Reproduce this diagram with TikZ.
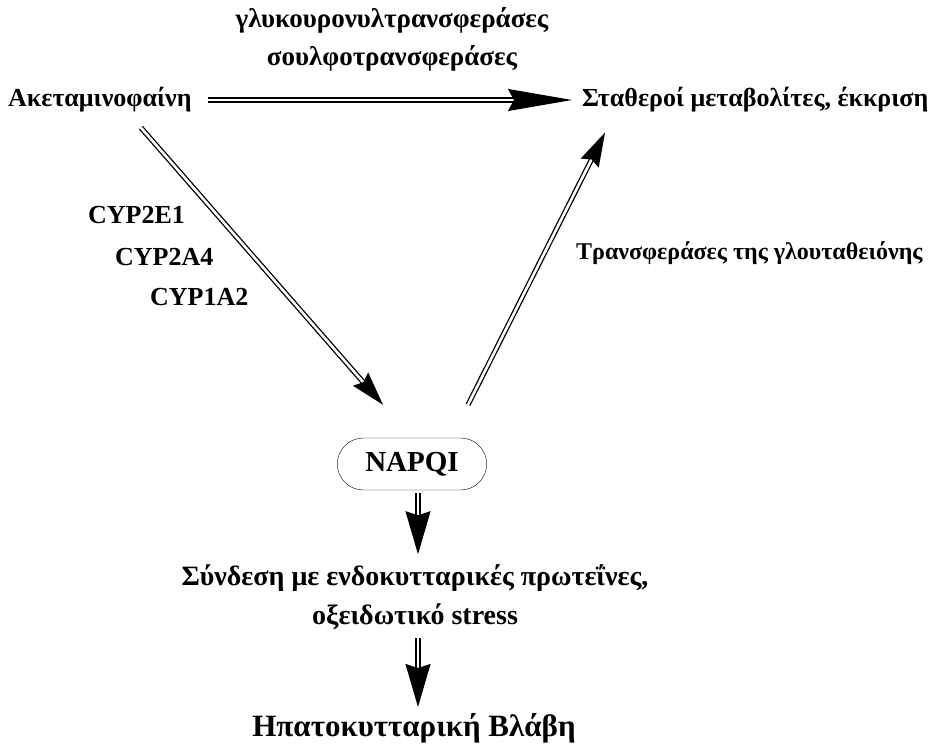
\documentclass[tikz,border=0pt]{standalone}
\usepackage{fontspec}
\setmainfont{Liberation Serif}
\usetikzlibrary{arrows.meta,shapes.misc}

\begin{document}
\begin{tikzpicture}[
	x = 1pt, y = -1pt,
	font = \bfseries\fontsize{26}{38}\selectfont,
	lbl/.style = {
		inner sep = 2pt
	},
	dbl/.style = {
		double,
		double distance = 2.6pt,
		line width = 1.3pt
	},
	longhead/.style = {
		dbl,
		-{Stealth[length = 64pt, width = 22pt, inset = 6pt]}
	},
	midhead/.style = {
		dbl,
		-{Stealth[length = 34pt, width = 20pt, inset = 4pt]}
	},
	downhead/.style = {
		dbl,
		-{Stealth[length = 43pt, width = 25pt, inset = 4pt]}
	}
	]
	\useasboundingbox (0,0) rectangle (934,747);
	\node[lbl, align = center, font = \bfseries\fontsize{27}{38}\selectfont] (enz) at (392,39) {γλυκουρονυλτρανσφεράσες\\σουλφοτρανσφεράσες};
	\node[lbl, anchor = west] (aket) at (6,100) {Ακεταμινοφαίνη};
	\node[lbl, anchor = west] (stab) at (580,100) {Σταθεροί μεταβολίτες, έκκριση};
	\node[lbl, anchor = west] (cypa) at (86,215) {CYP2E1};
	\node[lbl, anchor = west] (cypb) at (113,257) {CYP2A4};
	\node[lbl, anchor = west] (cypc) at (148,297) {CYP1A2};
	\node[lbl, anchor = west, font = \bfseries\fontsize{24}{28}\selectfont] (gsh) at (574,253) {Τρανσφεράσες της γλουταθειόνης};
	\node[draw, thin, rounded rectangle, minimum width = 156pt, minimum height = 52pt,
		font = \bfseries\fontsize{29}{32}\selectfont] (napqi) at (412,464) {NAPQI};
	\node[lbl, align = center, font = \bfseries\fontsize{28}{39}\selectfont] (synd) at (415,597) {Σύνδεση με ενδοκυτταρικές πρωτεΐνες,\\οξειδωτικό stress};
	\node[lbl, font = \bfseries\fontsize{31}{34}\selectfont] (blavi) at (414,728) {Ηπατοκυτταρική Βλάβη};

	\draw[longhead] ([xshift = 14pt]aket.east) -- ([xshift = -8pt]stab.west);
	\draw[midhead] ([xshift = 41pt, yshift = -13pt]aket.south) -- ([xshift = -29pt, yshift = 33pt]napqi.north);
	\draw[midhead] ([xshift = 56pt, yshift = 33pt]napqi.north) -- ([xshift = 25pt, yshift = -18pt]stab.south west);
	\draw[downhead] ([xshift = 6pt, yshift = -3pt]napqi.south) -- ([xshift = 3pt, yshift = 8pt]synd.north);
	\draw[downhead] ([xshift = 3pt, yshift = -6pt]synd.south) -- ([xshift = 4pt, yshift = 4pt]blavi.north);
\end{tikzpicture}
\end{document}
